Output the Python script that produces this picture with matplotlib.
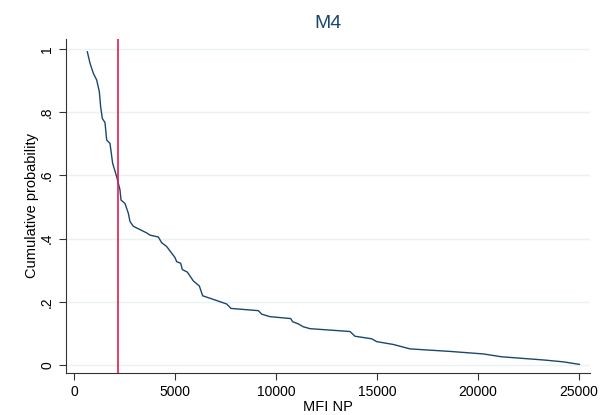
import matplotlib.pyplot as plt

plt.rcParams['font.family'] = ['Liberation Sans', 'DejaVu Sans']

# cumulative probability curve
mfi = [660, 792, 957, 1122, 1254, 1320, 1403, 1535, 1617, 1782, 1914, 2112,
       2277, 2327, 2525, 2690, 2772, 2937, 3597, 3762, 4175, 4340, 4587,
       5000, 5083, 5281, 5363, 5611, 5908, 6205, 6370, 7063, 7558, 7772,
       9125, 9290, 9703, 10726, 10825, 11106, 11353, 11683, 13663, 13911,
       14736, 14983, 15809, 16634, 18614, 20264, 21172, 23234, 24225, 25017]
prob = [0.991, 0.955, 0.923, 0.902, 0.865, 0.817, 0.780, 0.767, 0.712, 0.701,
        0.638, 0.596, 0.554, 0.522, 0.511, 0.480, 0.454, 0.439, 0.418, 0.411,
        0.405, 0.387, 0.375, 0.340, 0.327, 0.322, 0.302, 0.294, 0.266, 0.250,
        0.219, 0.204, 0.193, 0.179, 0.172, 0.161, 0.153, 0.147, 0.137, 0.130,
        0.121, 0.115, 0.106, 0.091, 0.083, 0.074, 0.065, 0.051, 0.043, 0.035,
        0.026, 0.016, 0.010, 0.002]
cutoff = 2180

fig = plt.figure(figsize=(6.03, 4.15), dpi=100)
ax = fig.add_axes([66 / 603, 42 / 415, 524 / 603, 334 / 415])

ax.plot(mfi, prob, color='#1a476f', lw=1.0)
ax.axvline(cutoff, color='#e8194f', lw=1.2)

ax.set_xlim(-396, 25545)
ax.set_ylim(-0.0253, 1.0316)
ax.set_xticks([0, 5000, 10000, 15000, 20000, 25000])
ax.set_yticks([0, 0.2, 0.4, 0.6, 0.8, 1])
ax.set_yticklabels(['0', '.2', '.4', '.6', '.8', '1'], rotation=90, va='center')
ax.grid(axis='y', color='#eaf2f3', lw=1)
ax.set_axisbelow(True)
ax.tick_params(labelsize=10, length=5, color='#333333')
for s in ['top', 'right']:
    ax.spines[s].set_visible(False)
ax.spines['left'].set_color('#333333')
ax.spines['bottom'].set_color('#333333')

ax.set_xlabel('MFI NP', fontsize=10.5, labelpad=1)
ax.set_ylabel('Cumulative probability', fontsize=10.5, labelpad=1)
ax.set_title('M4', fontsize=14, color='#1a476f', pad=8)

plt.savefig('out.png', dpi=100)
